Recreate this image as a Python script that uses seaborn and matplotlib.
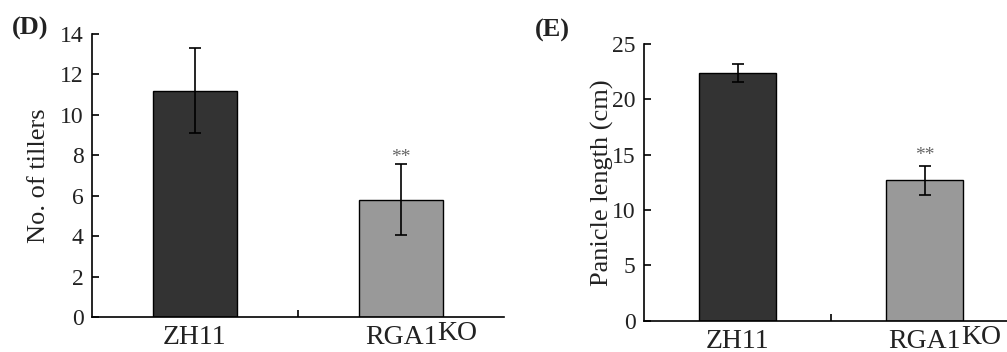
import matplotlib
matplotlib.use("Agg")
import matplotlib.pyplot as plt
import seaborn as sns
import pandas as pd

# ---- data ----
genotypes = ["ZH11", "RGA1"]
tillers_mean = [11.2, 5.8]
tillers_err = [2.1, 1.75]
panicle_mean = [22.4, 12.7]
panicle_err = [0.8, 1.3]
sig_marks = ["", "**"]
bar_colors = ["#333333", "#999999"]

sns.set_theme(style="ticks")
plt.rcParams["font.family"] = ["Liberation Serif", "DejaVu Serif"]

fig = plt.figure(figsize=(10.07, 3.52), dpi=100)
axD = fig.add_axes([92 / 1007, 1 - 317 / 352, 412 / 1007, (317 - 34) / 352])
axE = fig.add_axes([644 / 1007, 1 - 320.7 / 352, 363 / 1007, (320.7 - 44) / 352])

TXT = "#222222"


def panel(ax, means, errs, ylabel, ylim, yticks, xlim, star_off, labelpad):
    df = pd.DataFrame({"genotype": genotypes, "value": means})
    sns.barplot(data=df, x="genotype", y="value", hue="genotype",
                palette=bar_colors, errorbar=None, width=0.41,
                edgecolor="black", linewidth=1.0, legend=False, ax=ax,
                saturation=1)
    xs = list(range(len(genotypes)))
    ax.errorbar(xs, means, yerr=errs, fmt="none", ecolor="black",
                elinewidth=1.2, capsize=4.5, capthick=1.2, zorder=5)
    for x, m, e, s in zip(xs, means, errs, sig_marks):
        if s:
            ax.annotate(s, xy=(x, m + e), xytext=(0, star_off),
                        textcoords="offset points", ha="center", va="bottom",
                        fontsize=14, color="#666666")
    ax.set_ylim(*ylim)
    ax.set_yticks(yticks)
    ax.set_xlim(*xlim)
    ax.set_xlabel("")
    ax.set_ylabel(ylabel, fontsize=19, labelpad=labelpad, color=TXT)
    for sp in ["top", "right"]:
        ax.spines[sp].set_visible(False)
    for sp in ["left", "bottom"]:
        ax.spines[sp].set_linewidth(1.2)
        ax.spines[sp].set_color("black")
    ax.tick_params(axis="y", direction="in", length=5, width=1.2,
                   labelsize=17, pad=6, colors="black", labelcolor=TXT)
    ax.tick_params(axis="x", which="major", length=0, labelsize=20, pad=6,
                   labelcolor=TXT)
    ax.set_xticks([0.5], minor=True)
    ax.tick_params(axis="x", which="minor", direction="in", length=5, width=1.2,
                   colors="black")
    lbls = ax.get_xticklabels()
    ax.annotate("KO", xy=(1, 1), xycoords=lbls[1], xytext=(0, 3),
                textcoords="offset points", ha="left", va="top", fontsize=20,
                color=TXT)


panel(axD, tillers_mean, tillers_err, "No. of tillers", (0, 14),
      range(0, 15, 2), (-0.5, 1.5), -1, 7)
panel(axE, panicle_mean, panicle_err, "Panicle length (cm)", (0, 25),
      range(0, 26, 5), (-0.5, 1.44), 1, -1.5)

fig.text(12 / 1007, 1 - 35 / 352, "(D)", fontsize=19, fontweight="bold",
         color=TXT)
fig.text(535 / 1007, 1 - 37 / 352, "(E)", fontsize=19, fontweight="bold",
         color=TXT)

fig.savefig("out.png", dpi=100)
